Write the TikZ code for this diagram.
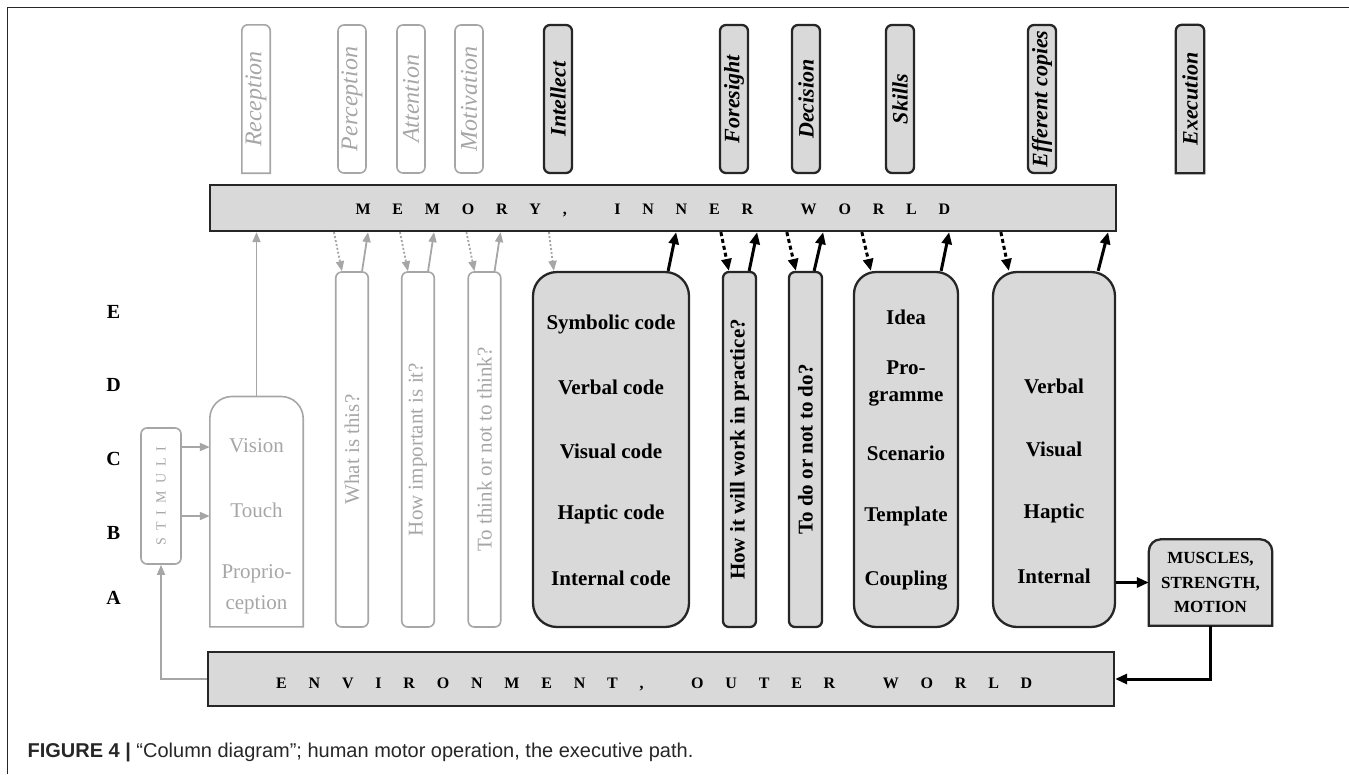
\documentclass[tikz,border=0pt]{standalone}
\usepackage{fontspec}
\setmainfont{Liberation Serif}
\newfontfamily\capfont{Liberation Sans}
\usetikzlibrary{arrows.meta}

\definecolor{litegray}{HTML}{A6A6A6}
\definecolor{boxgray}{HTML}{D9D9D9}
\definecolor{edgeblack}{HTML}{262626}

\newcommand{\fsize}[1]{\fontsize{#1}{#1}\selectfont}

% letter spaced text, gap put between the characters
\newcommand{\tracked}[2]{\def\trackgap{#1}\trackfirst#2\relax}
\def\trackfirst#1{#1\trackloop}
\def\trackloop#1{\ifx#1\relax\else\hspace{\trackgap}#1\expandafter\trackloop\fi}

% box with rounded top and square bottom
\newcommand{\roundtop}[3]{%
  \draw[#1] (#2.south west) -- ([yshift=-#3]#2.north west)
    arc[start angle=180, end angle=90, radius=#3]
    -- ([xshift=-#3]#2.north east)
    arc[start angle=90, end angle=0, radius=#3]
    -- (#2.south east) -- cycle;}

\tikzset{
  liteline/.style={draw=litegray, line width=1.6pt},
  darkedge/.style={draw=edgeblack, fill=boxgray, line width=2.3pt},
  litebox/.style={liteline, rounded corners=6pt, inner sep=0pt},
  darkbox/.style={darkedge, rounded corners=6pt, inner sep=0pt},
  litetext/.style={text=litegray, font=\fsize{21}},
  boldtext/.style={font=\bfseries\fsize{21}},
  toplabel/.style={minimum width=28pt, minimum height=148pt, inner sep=0pt},
  litelabel/.style={text=litegray, font=\itshape\fsize{24}},
  darklabel/.style={font=\bfseries\itshape\fsize{22}},
  column/.style={minimum height=355pt},
  bartext/.style={anchor=base west, font=\bfseries\fsize{16}},
  litearrow/.style={draw=litegray, line width=1.8pt, -{Triangle[length=10pt,width=8pt]}},
  darkarrow/.style={draw=black, line width=3pt, -{Triangle[length=12pt,width=10pt]}},
  litedots/.style={litearrow, dash pattern=on 2pt off 2pt},
  darkdots/.style={darkarrow, dash pattern=on 4pt off 3pt},
}

\begin{document}
\begin{tikzpicture}[x=1pt, y=-1pt]
\useasboundingbox (0,0) rectangle (1349,774);
\draw[edgeblack, line width=1.5pt] (7.5,774) -- (7.5,7.5) -- (1349,7.5);

% labels above the memory
\node[toplabel] (recep) at (256,99) {};
\roundtop{liteline}{recep}{6pt}
\node[litelabel] (recep-txt) at (recep) {\rotatebox{90}{Reception}};
\foreach \name/\xpos/\txt in {percep/352/Perception, atten/411/Attention, motiv/469/Motivation}
  \node[toplabel, litebox, litelabel] (\name) at (\xpos,99) {\rotatebox{90}{\txt}};
\foreach \name/\xpos/\txt in {intel/558/Intellect, fore/734/Foresight, decis/806/Decision, skill/900/Skills, effcop/1042/Efferent copies}
  \node[toplabel, darkbox, darklabel] (\name) at (\xpos,99) {\rotatebox{90}{\txt}};
\node[toplabel] (exec) at (1190,99) {};
\roundtop{darkedge}{exec}{6pt}
\node[darklabel] (exec-txt) at (exec) {\rotatebox{90}{Execution}};

% the two bars
\node[darkedge, minimum width=906pt, minimum height=46pt] (memory) at (663,208) {};
\node[bartext] (memory-txt) at (352,214) {\tracked{21.8pt}{MEMORY,~INNER~WORLD}};
\node[darkedge, minimum width=906pt, minimum height=54pt] (environment) at (661,679) {};
\node[bartext] (env-txt) at (272.7,688) {\tracked{21.8pt}{ENVIRONMENT,~OUTER~WORLD}};

% levels
\foreach \lvl/\ypos in {E/311.7, D/385, C/459, B/532.7, A/598}
  \node[font=\bfseries\fsize{20}] (level-\lvl) at (113.5,\ypos) {\lvl};

% reception side
\node[litebox, minimum width=40pt, minimum height=136pt] (stimuli) at (161,496)
  {\rotatebox{90}{\color{litegray}\fsize{14}\tracked{7pt}{STIMULI}}};
\node[minimum width=93pt, minimum height=230pt, inner sep=0pt] (senses) at (256.5,511.7) {};
\roundtop{liteline}{senses}{22pt}
\node[litetext] (vision) at (256.5,446) {Vision};
\node[litetext] (touch) at (256.5,510) {Touch};
\node[litetext, font=\fontsize{21}{31}\selectfont, align=center] (proprio) at (256.5,589.5) {Proprio-\\ception};

\foreach \name/\xpos/\txt in {what/352/What is this?, howimp/418/How important is it?, think/484.5/To think or not to think?}
  \node[litebox, litetext, column, minimum width=32.5pt] (\name) at (\xpos,449.5) {\rotatebox{90}{\txt}};

% executive side
\node[darkbox, column, rounded corners=24pt, minimum width=156pt] (codes) at (611,449.5) {};
\foreach \txt [count=\i] in {Symbolic code, Verbal code, Visual code, Haptic code, Internal code}
  \node[boldtext] (code-\i) at (611,260.8+63.5*\i) {\txt};
\node[darkbox, boldtext, column, minimum width=33pt] (practice) at (739.5,449.5) {\rotatebox{90}{How it will work in practice?}};
\node[darkbox, boldtext, column, minimum width=33pt] (todo) at (805.5,449.5) {\rotatebox{90}{To do or not to do?}};
\node[darkbox, column, rounded corners=22pt, minimum width=104pt] (skillbox) at (906,449.5) {};
\node[boldtext] (idea) at (906,317.3) {Idea};
\node[boldtext, font=\bfseries\fontsize{21}{27}\selectfont, align=center] (programme) at (906,383.4) {Pro-\\gramme};
\node[boldtext] (scenario) at (906,453.3) {Scenario};
\node[boldtext] (template) at (906,516.7) {Template};
\node[boldtext] (coupling) at (906,581) {Coupling};
\node[darkbox, column, rounded corners=24pt, minimum width=122pt] (efferent) at (1054,449.5) {};
\foreach \txt [count=\i] in {Verbal, Visual, Haptic, Internal}
  \node[boldtext] (copy-\i) at (1054,322.5+63.5*\i) {\txt};
\node[minimum width=123pt, minimum height=86pt, inner sep=0pt] (muscles) at (1210.5,582.5) {};
\roundtop{darkedge}{muscles}{12pt}
\node[font=\bfseries\fontsize{17}{24.5}\selectfont, align=center] (muscles-txt) at (muscles) {MUSCLES,\\STRENGTH,\\MOTION};

% connectors
\draw[litearrow] (senses.north) -- (senses.north |- memory.south);
\coordinate (stim-a) at ([yshift=49pt]stimuli.east);
\coordinate (stim-b) at ([yshift=-20pt]stimuli.east);
\draw[litearrow] (stim-a) -- (stim-a -| senses.west);
\draw[litearrow] (stim-b) -- (stim-b -| senses.west);
\draw[litearrow] (environment.west) -| (stimuli.south);
\foreach \col in {what, howimp, think} {
  \draw[litedots] ([xshift=-1pt]\col.north west |- memory.south) -- ([xshift=7pt]\col.north west);
  \draw[litearrow] ([xshift=-7pt]\col.north east) -- ([xshift=-1pt]\col.north east |- memory.south);
}
\draw[litedots] ([xshift=17pt]codes.north west |- memory.south) -- ([xshift=22pt]codes.north west);
\draw[darkarrow] ([xshift=-22pt]codes.north east) -- ([xshift=-14pt]codes.north east |- memory.south);
\foreach \col/\a/\b/\c/\d in {practice/-1/7/-8/0, todo/-1/8/-9/0, skillbox/9/18/-18/-10, efferent/9/17/-18/-8} {
  \draw[darkdots] ([xshift=\a pt]\col.north west |- memory.south) -- ([xshift=\b pt]\col.north west);
  \draw[darkarrow] ([xshift=\c pt]\col.north east) -- ([xshift=\d pt]\col.north east |- memory.south);
}
\draw[darkarrow] (efferent.east |- muscles.west) -- (muscles.west);
\draw[darkarrow] (muscles.south) |- (environment.east);

\node[anchor=base west, font=\capfont\fsize{20}, text=edgeblack] (caption) at (24,757)
  {\textbf{FIGURE 4 |} “Column diagram”; human motor operation, the executive path.};
\end{tikzpicture}
\end{document}
